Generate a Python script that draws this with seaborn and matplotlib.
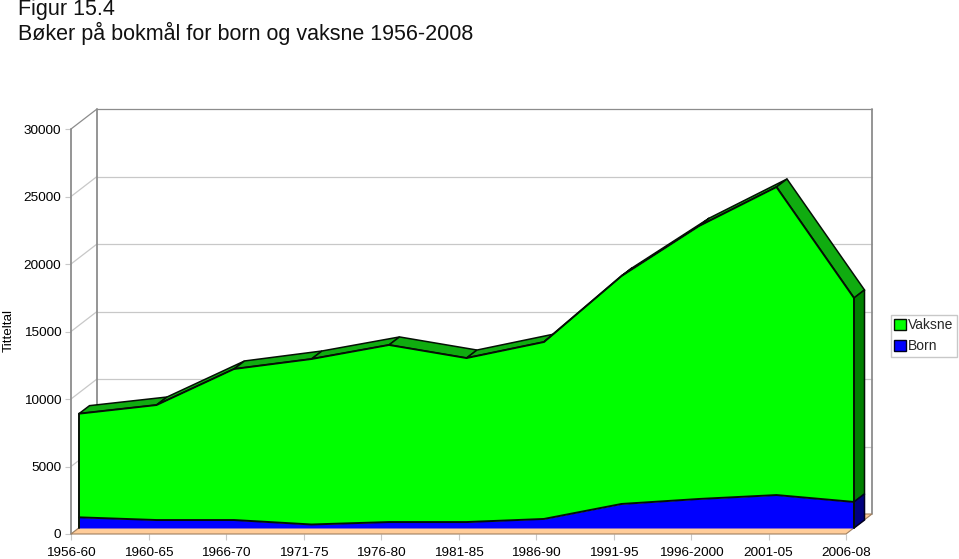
import numpy as np
import pandas as pd
import matplotlib.pyplot as plt
import seaborn as sns
from matplotlib.lines import Line2D
from matplotlib.patches import Patch, Polygon
from matplotlib.transforms import Affine2D, IdentityTransform

periods = ['1956-60', '1960-65', '1966-70', '1971-75', '1976-80', '1981-85',
           '1986-90', '1991-95', '1996-2000', '2001-05', '2006-08']
born = [790, 590, 590, 260, 440, 440, 670, 1780, 2150, 2440, 1930]
vaksne = [7680, 8520, 11190, 12260, 13120, 12150, 13110, 16890, 20220, 22820, 15110]
y_ticks = [0, 5000, 10000, 15000, 20000, 25000, 30000]

sns.set_theme(style='white')
plt.rcParams['font.family'] = ['Liberation Sans', 'DejaVu Sans']

df = pd.DataFrame({'periode': periods, 'Born': born, 'Vaksne': vaksne})
df['pos'] = np.arange(len(df))
df['total'] = df['Born'] + df['Vaksne']

W, H = 959, 559
fig = plt.figure(figsize=(W / 100, H / 100), dpi=100)
# front plane of the fake 3d box, in pixels
left, right, top, bottom = 71, 846, 129, 534
ax = fig.add_axes([left / W, 1 - bottom / H, (right - left) / W, (bottom - top) / H])
ax.set_xlim(0, len(df) - 1)
ax.set_ylim(0, 30000)
ax.patch.set_visible(False)
sns.despine(ax=ax, left=True, bottom=True)

WALL = (26, 20)
FRONT = (8, 6)
BACK = (18.5, 14)
GREY = '#8c8c8c'
LIGHT = '#c8c8c8'
EDGE = '#051005'


def px(xs, ys, off=(0, 0)):
    return ax.transData.transform(np.column_stack([xs, ys])) + np.array(off)


def shape(pts, **kw):
    ax.add_patch(Polygon(pts, transform=IdentityTransform(), clip_on=False, **kw))


def line(pts, **kw):
    ax.add_line(Line2D(pts[:, 0], pts[:, 1], transform=IdentityTransform(), clip_on=False, **kw))


n = len(df) - 1

# floor
floor = np.vstack([px([0, n], [0, 0]), px([n, 0], [0, 0], WALL)])
shape(floor, facecolor='#ffcc99', edgecolor='#a08060', linewidth=0.8, zorder=2)

# walls and grid
for v in y_ticks:
    a = px([0], [v])[0]
    b = px([0], [v], WALL)[0]
    c = px([n], [v], WALL)[0]
    col = GREY if v == 30000 else LIGHT
    line(np.array([a, b]), color=col, linewidth=0.9, zorder=1)
    if v > 0:
        line(np.array([b, c]), color=col, linewidth=0.9, zorder=1)
line(np.vstack([px([0, 0], [0, 30000])]), color=GREY, linewidth=1.3, zorder=1.5)
line(np.vstack([px([0, 0], [0, 30000], WALL)]), color=GREY, linewidth=1.3, zorder=1.5)
line(np.vstack([px([n, n], [0, 30000], WALL)]), color=GREY, linewidth=1.3, zorder=1.5)

# top strips and right side of the stacked areas
x = df['pos'].to_numpy()
tot = df['total'].to_numpy()
bor = df['Born'].to_numpy()
for i in range(n):
    strip = np.vstack([px(x[i:i + 2], tot[i:i + 2], FRONT),
                       px(x[i:i + 2][::-1], tot[i:i + 2][::-1], BACK)])
    shape(strip, facecolor='#10ac10', edgecolor=EDGE, linewidth=1.1, zorder=3)
side_g = np.vstack([px([n, n], [bor[-1], tot[-1]], FRONT), px([n, n], [tot[-1], bor[-1]], BACK)])
side_b = np.vstack([px([n, n], [0, bor[-1]], FRONT), px([n, n], [bor[-1], 0], BACK)])
shape(side_g, facecolor='#007f00', edgecolor=EDGE, linewidth=1.1, zorder=3)
shape(side_b, facecolor='#00007f', edgecolor='#000020', linewidth=1.1, zorder=3)

# front faces
shift = Affine2D().translate(*FRONT)
ax.fill_between(x, bor, tot, color='#00ff00', linewidth=0, transform=ax.transData + shift,
                clip_on=False, zorder=4)
ax.fill_between(x, 0, bor, color='#0000ff', linewidth=0, transform=ax.transData + shift,
                clip_on=False, zorder=4)
for col in ['total', 'Born']:
    sns.lineplot(data=df, x='pos', y=col, color=EDGE, linewidth=1.4, ax=ax, legend=False,
                 transform=ax.transData + shift, clip_on=False, zorder=5)
line(px([0, 0], [0, tot[0]], FRONT), color=EDGE, linewidth=1.4, zorder=5)
line(px([n, n], [0, tot[-1]], FRONT), color=EDGE, linewidth=1.4, zorder=5)

ax.set_xticks(x)
ax.set_xticklabels(periods, fontsize=9.7, color='black')
ax.set_yticks(y_ticks)
ax.set_yticklabels([str(v) for v in y_ticks], fontsize=9.7, color='black')
ax.tick_params(axis='y', length=4.3, width=0.8, color=LIGHT, pad=2.6, left=True)
ax.tick_params(axis='x', length=4.3, width=0.8, color=LIGHT, pad=5, bottom=True)
ax.set_xlabel('')
ax.set_ylabel('')

fig.text(18 / W, 1 - 9 / H, 'Figur 15.4', fontsize=15.5, color='#111111', va='center', ha='left')
fig.text(18 / W, 1 - 33 / H, 'Bøker på bokmål for born og vaksne 1956-2008', fontsize=15.5,
         color='#111111', va='center', ha='left')
fig.text(9 / W, 1 - 331 / H, 'Titteltal', fontsize=9.7, rotation=90, va='center', ha='center',
         color='black')

handles = [Patch(facecolor='#00ff00', edgecolor=EDGE, label='Vaksne'),
           Patch(facecolor='#0000ff', edgecolor='#000020', label='Born')]
fig.legend(handles=handles, loc='upper left', bbox_to_anchor=(891 / W, 1 - 315 / H),
           fontsize=10, frameon=True, fancybox=False, edgecolor=LIGHT, framealpha=1,
           borderpad=0.25, handlelength=0.8, handleheight=0.8, handletextpad=0.2,
           labelspacing=0.5, borderaxespad=0)

fig.savefig('out.png', dpi=100)
